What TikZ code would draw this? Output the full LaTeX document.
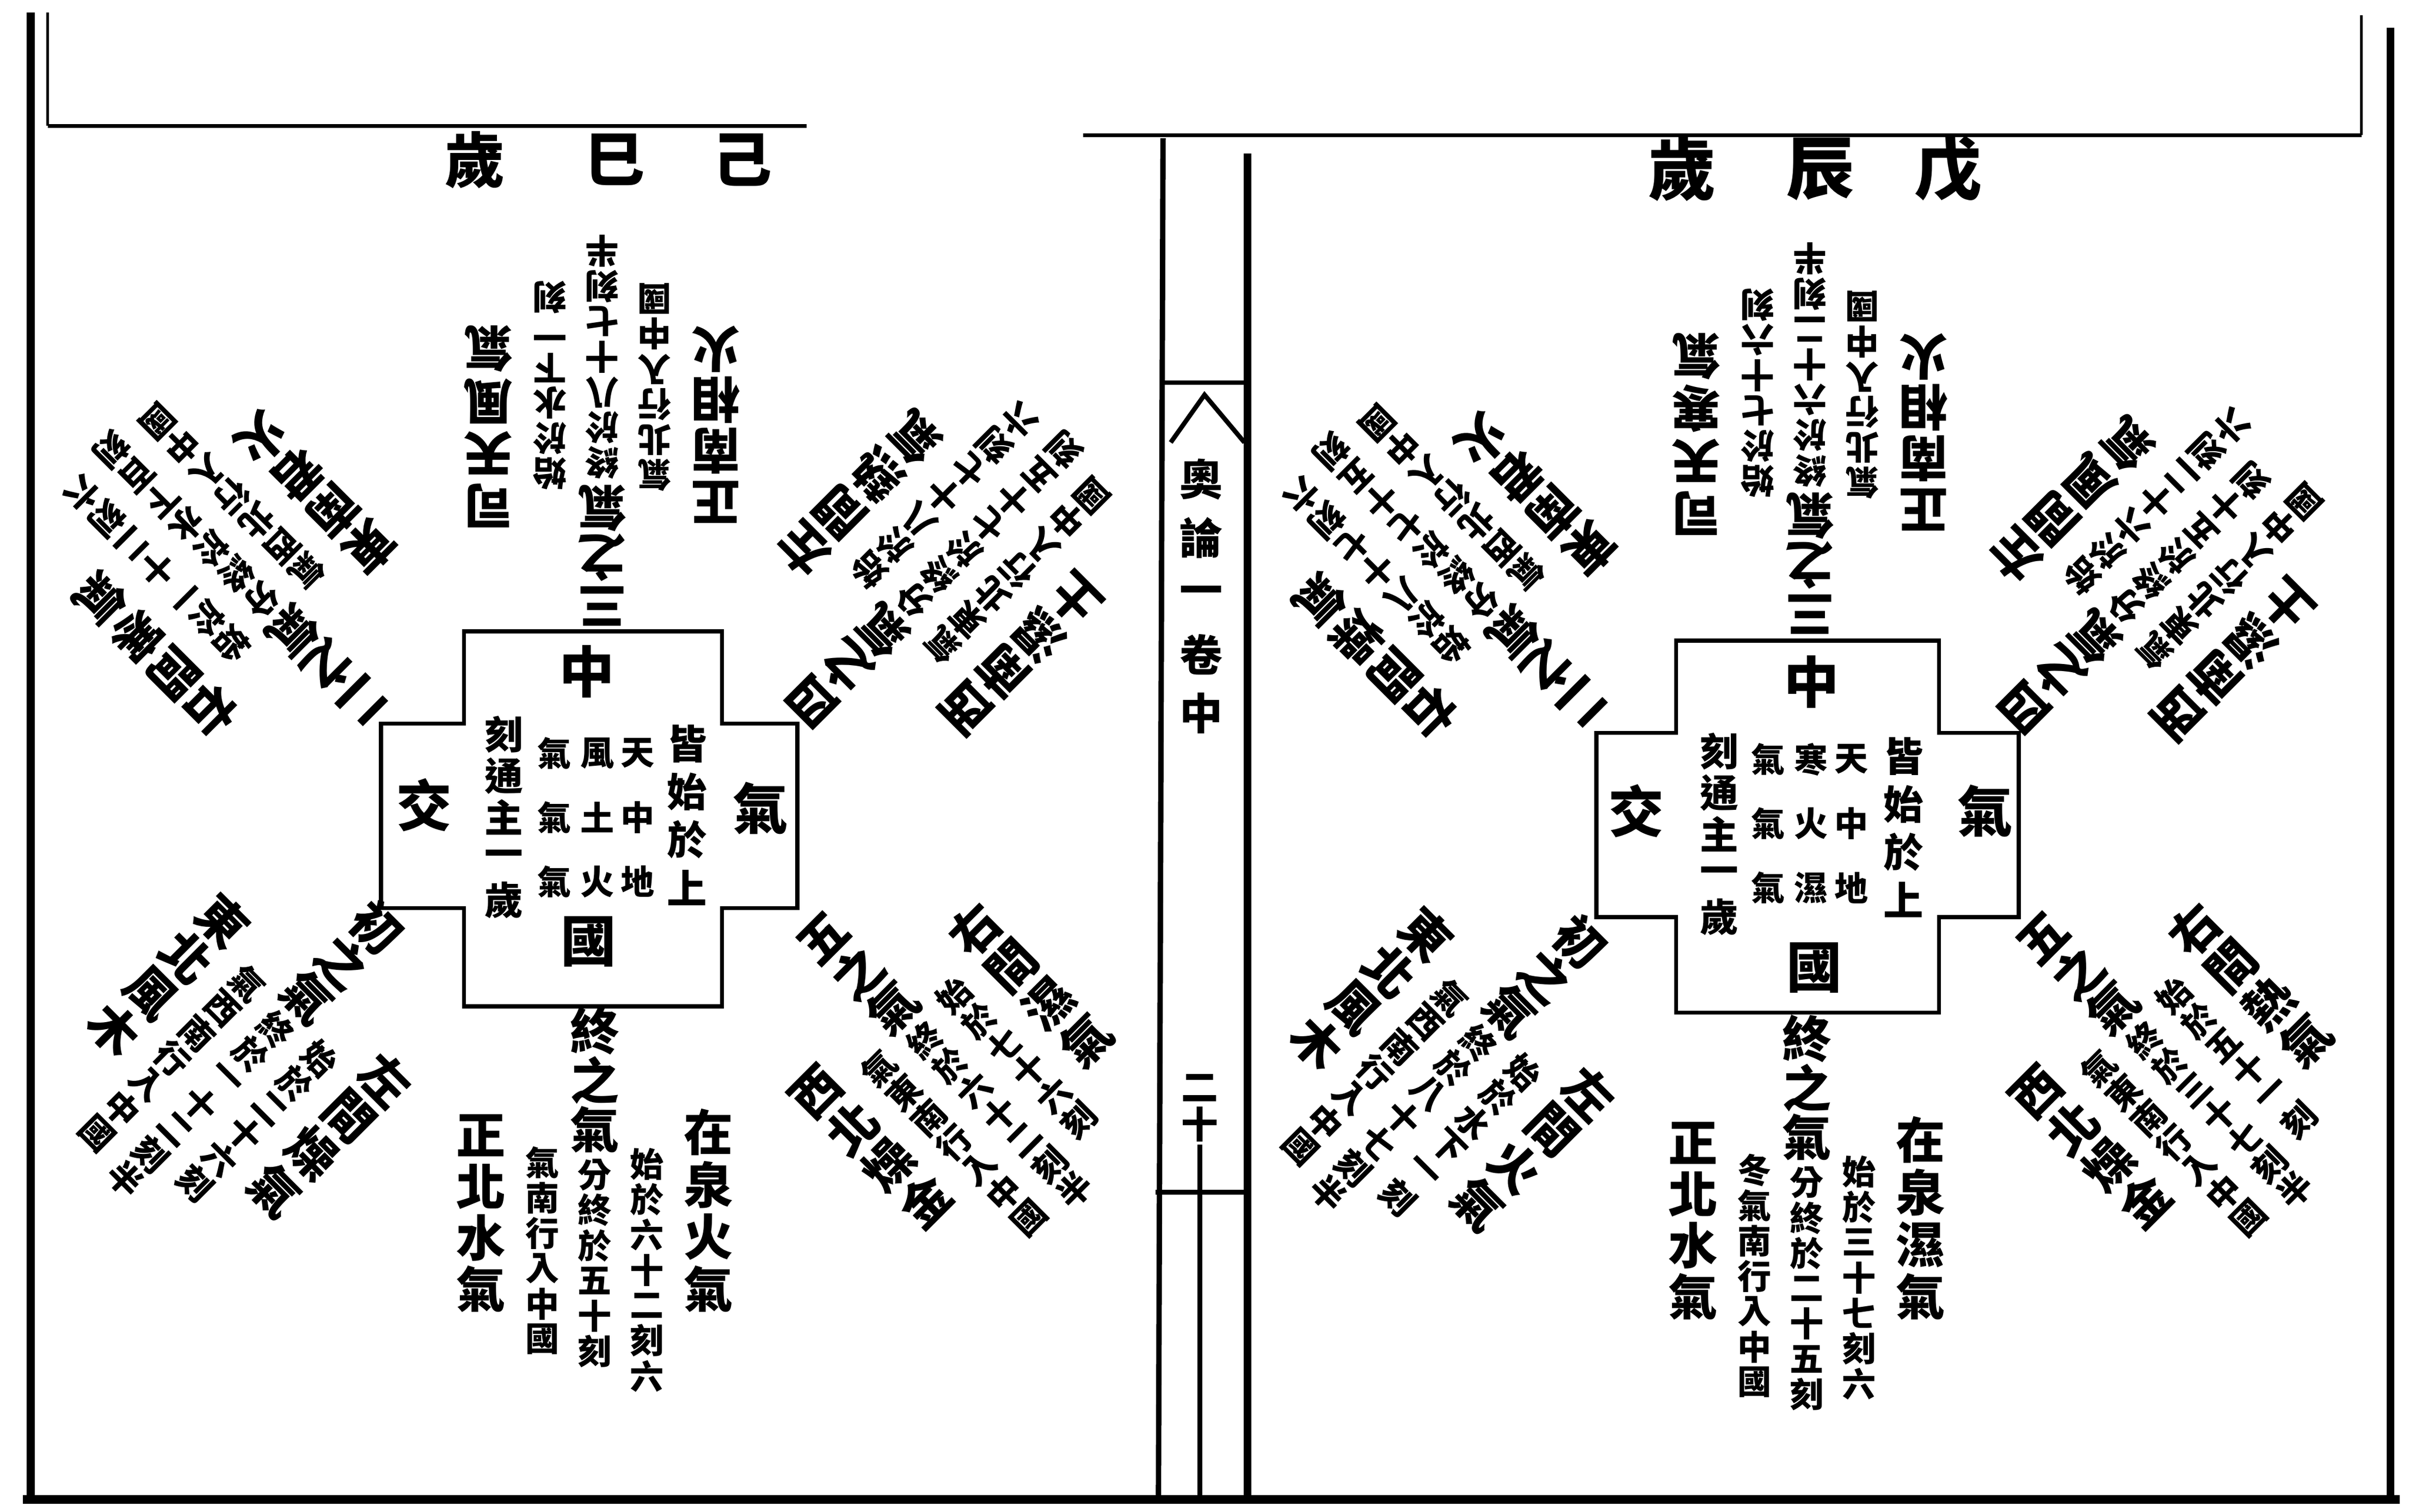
\documentclass[tikz,border=0pt]{standalone}
\usepackage{fontspec}
\newfontfamily\cjk{Noto Sans CJK TC}
\ExplSyntaxOn
\NewDocumentCommand\vstack{ m m }
 {
  \vbox{\offinterlineskip
   \tl_map_inline:nn {#2}
    { \hbox to 1.08em {\hss \vbox to #1 em {\vss \hbox{##1} \vss} \hss} }
  }
 }
\ExplSyntaxOff
\tikzset{
  bigt/.style={font=\cjk\bfseries\fontsize{32}{32}\selectfont, inner sep=0pt},
  smlt/.style={font=\cjk\bfseries\fontsize{22}{22}\selectfont, inner sep=0pt},
  midt/.style={font=\cjk\bfseries\fontsize{26}{26}\selectfont, inner sep=0pt},
  ctrt/.style={font=\cjk\bfseries\fontsize{36}{36}\selectfont, inner sep=0pt},
  ttlt/.style={font=\cjk\bfseries\fontsize{44}{44}\selectfont, inner sep=0pt},
  spnt/.style={font=\cjk\bfseries\fontsize{28}{28}\selectfont, inner sep=0pt},
  pageline/.style={line width=3pt, line cap=butt},
  boxline/.style={line width=2.6pt, line join=miter},
}
% one arm of the diagram: prefix, origin, angle, six columns
\newcommand\arm[9]{%
 \begin{scope}[shift={#2}, rotate=#3, transform shape, name prefix=#1-]
  \node[bigt] (a) at (74,255) {\vstack{1.063}{#4}};
  \node[smlt, anchor=north] (b) at (34,213) {\vstack{1.045}{#5}};
  \node[bigt, anchor=north] (c) at (0,122) {\vstack{1.0}{#6}};
  \node[smlt, anchor=north] (c2) at (0,220) {\vstack{1.045}{#7}};
  \node[smlt, anchor=north] (d) at (-34,212) {\vstack{1.045}{#8}};
  \node[bigt] (e) at (-74,256) {\vstack{1.04}{#9}};
 \end{scope}}
\begin{document}
\begin{tikzpicture}[x=1pt, y=-1pt]
\useasboundingbox (0,0) rectangle (1568,984);
\fill[white] (0,0) rectangle (1568,984);

% ---------- page frame ----------
\draw[pageline, line width=5pt] (20,8) -- (20,977);
\draw[pageline, line width=2pt] (31,8) -- (31,82);
\draw[pageline, line width=2.5pt] (31,82) -- (525,82);
\draw[pageline, line width=2.5pt] (705,88) -- (1537,88);
\draw[pageline, line width=2pt] (1537,10) -- (1537,88);
\draw[pageline, line width=5pt] (1556,18) -- (1556,977);
\draw[pageline, line width=6pt] (15,976) -- (1562,976);
% spine
\draw[pageline, line width=3.5pt] (757,90) -- (754,976);
\draw[pageline, line width=5pt] (812,100) -- (812,976);
\draw[pageline] (757,249) -- (812,249);
\draw[pageline, line join=miter] (762,288) -- (784,257) -- (810,288);
\draw[pageline] (752,776) -- (810,776);
\draw[pageline] (781,745) -- (781,976);
\node[spnt] (S1) at (782,388) {\vstack{1.36}{奧論一卷中}};
\node[font=\cjk\bfseries\fontsize{24}{24}\selectfont, inner sep=0pt] (S2) at (781,720) {\vstack{1.0}{二十}};

% ---------- titles ----------
\node[ttlt] (Rt1) at (1268,110) {戊};
\node[ttlt] (Rt2) at (1185,110) {辰};
\node[ttlt] (Rt3) at (1095,110) {歲};
\node[ttlt, font=\cjk\bfseries\fontsize{39}{39}\selectfont] (Lt1) at (483,104) {己};
\node[ttlt, font=\cjk\bfseries\fontsize{39}{39}\selectfont] (Lt2) at (400,104) {巳};
\node[ttlt, font=\cjk\bfseries\fontsize{39}{39}\selectfont] (Lt3) at (309,104) {歲};

% ---------- right page centre ----------
\draw[boxline] (1091,417) -- (1262,417) -- (1262,477) -- (1314,477) -- (1314,597)
  -- (1262,597) -- (1262,659) -- (1091,659) -- (1091,597) -- (1039,597)
  -- (1039,477) -- (1091,477) -- cycle;
\node[ctrt] (Rzh) at (1179,444) {中};
\node[ctrt] (Rjiao) at (1065,528) {交};
\node[ctrt] (Rqi) at (1292,528) {氣};
\node[ctrt] (Rguo) at (1181,630) {國};
\node[midt] (Rc1) at (1239,539) {\vstack{1.2}{皆始於上}};
\node[smlt] (Rg1) at (1205,536) {\vstack{1.9}{天中地}};
\node[smlt] (Rg2) at (1179,536) {\vstack{1.9}{寒火濕}};
\node[smlt] (Rg3) at (1151,536) {\vstack{1.9}{氣氣氣}};
\node[midt, font=\cjk\bfseries\fontsize{25}{25}\selectfont] (Rc5) at (1119,543) {\vstack{1.08}{刻通主一歲}};

\arm{RT}{(1178,538)}{180}{司天寒氣}{始於七十六刻}{三之氣}{終於六十二刻半}{氣北行入中國}{正南相火}
\arm{RB}{(1176,538)}{0}{在泉濕氣}{始於三十七刻六}{終之氣}{分終於二十五刻}{冬氣南行入中國}{正北水氣}
\arm{RLL}{(1126,515)}{-45}{左間火氣}{始於水下一刻}{初之氣}{終於八十七刻半}{氣西南行入中國}{東北風木}
\arm{RUL}{(1128,555)}{-135}{右間燥氣}{始於八十七刻六}{二之氣}{分終於七十五刻}{氣西北行入中國}{東南君火}
\arm{RUR}{(1220,558)}{135}{左間風氣}{始於六十二刻六}{四之氣}{分終於五十刻}{氣東北行入中國}{西南濕土}
\arm{RLR}{(1232,513)}{45}{右間熱氣}{始於五十一刻}{五之氣}{終於三十七刻半}{氣東南行入中國}{西北燥金}

% ---------- left page centre ----------
\draw[boxline] (302,411) -- (470,411) -- (470,471) -- (519,471) -- (519,591)
  -- (470,591) -- (470,655) -- (302,655) -- (302,591) -- (248,591)
  -- (248,471) -- (302,471) -- cycle;
\node[ctrt] (Lzh) at (382,437) {中};
\node[ctrt] (Ljiao) at (276,524) {交};
\node[ctrt] (Lqi) at (495,526) {氣};
\node[ctrt] (Lguo) at (383,613) {國};
\node[midt] (Lc1) at (447,531) {\vstack{1.2}{皆始於上}};
\node[smlt] (Lg1) at (415,532) {\vstack{1.9}{天中地}};
\node[smlt] (Lg2) at (389,532) {\vstack{1.9}{風土火}};
\node[smlt] (Lg3) at (361,532) {\vstack{1.9}{氣氣氣}};
\node[midt, font=\cjk\bfseries\fontsize{25}{25}\selectfont] (Lc5) at (328,532) {\vstack{1.08}{刻通主一歲}};

\arm{LT}{(392,533)}{180}{司天風氣}{始於水下一刻}{三之氣}{終於八十七刻半}{氣北行入中國}{正南相火}
\arm{LB}{(387,533)}{0}{在泉火氣}{始於六十二刻六}{終之氣}{分終於五十刻}{氣南行入中國}{正北水氣}
\arm{LLL}{(343,506)}{-45}{左間燥氣}{始於二十六刻}{初之氣}{終於一十二刻半}{氣西南行入中國}{東北風木}
\arm{LUL}{(334,554)}{-135}{右間寒氣}{始於一十二刻六}{二之氣}{分終於水下百刻}{氣西北行入中國}{東南君火}
\arm{LUR}{(431,554)}{135}{左間熱氣}{始於八十七刻六}{四之氣}{分終於七十五刻}{氣東北行入中國}{西南濕土}
\arm{LLR}{(438,513)}{45}{右間濕氣}{始於七十六刻}{五之氣}{終於六十二刻半}{氣東南行入中國}{西北燥金}
\end{tikzpicture}
\end{document}
